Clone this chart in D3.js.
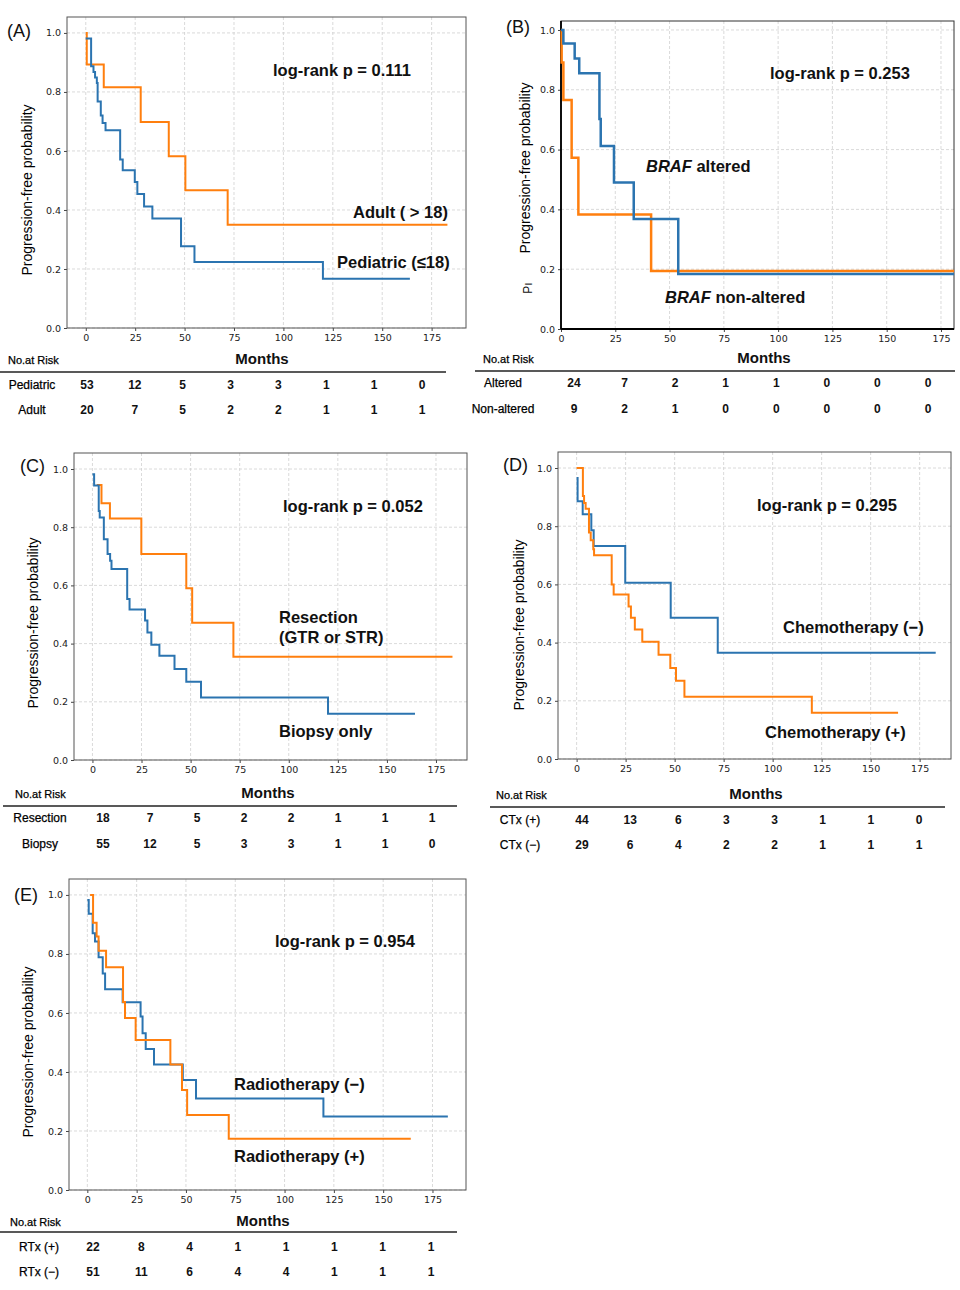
<!DOCTYPE html>
<html><head><meta charset="utf-8">
<script src="https://cdn.jsdelivr.net/npm/d3@7"></script>
<style>
body{margin:0;background:#fff;}
svg{display:block;}
</style></head>
<body>
<svg id="chart" width="960" height="1290"></svg>
<script>
// ---------------- DATA ----------------
const monthTicks = [0, 25, 50, 75, 100, 125, 150, 175];
const probTicks = [0, 0.2, 0.4, 0.6, 0.8, 1.0];

// Panel A: age
const A_pediatric = [[0,0.981],[2.7,0.887],[3.9,0.868],[4.7,0.849],[5.6,0.830],[6.0,0.768],[7.6,0.720],[8.5,0.695],[10,0.670],[17.4,0.571],[18.7,0.535],[24.8,0.495],[26.1,0.454],[29.5,0.412],[33.7,0.371],[48.2,0.277],[55,0.224],[120,0.167],[164,0.167]];
const A_adult = [[0,1.0],[0.5,0.893],[9.1,0.816],[27.8,0.698],[42,0.582],[50.4,0.467],[71.8,0.350],[183,0.350]];
const A_riskLabels = ["Pediatric", "Adult"];
const A_riskPediatric = [53, 12, 5, 3, 3, 1, 1, 0];
const A_riskAdult = [20, 7, 5, 2, 2, 1, 1, 1];

// Panel B: BRAF
const B_altered = [[0,1.0],[1.1,0.955],[6.3,0.905],[8.4,0.855],[17.7,0.702],[18.3,0.612],[24.4,0.490],[33.5,0.368],[54,0.184],[181,0.184]];
const B_nonAltered = [[0,1.0],[0.3,0.891],[1.1,0.766],[4.9,0.573],[8.0,0.383],[41.5,0.194],[181,0.194]];
const B_riskLabels = ["Altered", "Non-altered"];
const B_riskAltered = [24, 7, 2, 1, 1, 0, 0, 0];
const B_riskNonAltered = [9, 2, 1, 0, 0, 0, 0, 0];

// Panel C: surgery
const C_biopsy = [[0,0.982],[0.85,0.943],[3.2,0.856],[3.7,0.833],[5.8,0.759],[7.7,0.708],[9,0.685],[9.7,0.656],[17.7,0.553],[18.9,0.517],[26.8,0.479],[28,0.438],[30,0.396],[34.1,0.358],[41.8,0.313],[47.8,0.269],[55.3,0.215],[120,0.159],[164.3,0.159]];
const C_resection = [[2.2,0.945],[4.6,0.882],[8.9,0.830],[24.9,0.708],[47.8,0.590],[50.8,0.472],[71.8,0.355],[183.4,0.355]];
const C_riskLabels = ["Resection", "Biopsy"];
const C_riskResection = [18, 7, 5, 2, 2, 1, 1, 1];
const C_riskBiopsy = [55, 12, 5, 3, 3, 1, 1, 0];

// Panel D: chemotherapy
const D_chemoNeg = [[0,0.966],[0.5,0.886],[3.1,0.841],[7.5,0.786],[8.7,0.732],[24.8,0.606],[48,0.485],[72,0.365],[183.2,0.365]];
const D_chemoPos = [[0,1.0],[3.2,0.904],[3.8,0.880],[4.6,0.860],[6.3,0.778],[7.2,0.752],[8.5,0.721],[8.9,0.700],[17.9,0.600],[18.9,0.565],[26.5,0.524],[27.7,0.485],[29.7,0.445],[33.5,0.403],[41.8,0.358],[47.8,0.313],[50.7,0.269],[55,0.214],[120,0.159],[164,0.159]];
const D_riskLabels = ["CTx (+)", "CTx (\u2212)"];
const D_riskPos = [44, 13, 6, 3, 3, 1, 1, 0];
const D_riskNeg = [29, 6, 4, 2, 2, 1, 1, 1];

// Panel E: radiotherapy
const E_rtNeg = [[0,0.983],[0.7,0.936],[2.7,0.870],[3.9,0.842],[5.7,0.789],[7.8,0.734],[9,0.680],[17.9,0.636],[27,0.588],[28,0.531],[29.6,0.478],[33.8,0.425],[48.4,0.373],[55.1,0.310],[119.7,0.249],[182.8,0.249]];
const E_rtPos = [[1.4,1.0],[2.9,0.906],[4.7,0.859],[5.7,0.811],[9.5,0.755],[18.1,0.637],[19.1,0.583],[24.5,0.508],[42.1,0.425],[48,0.339],[50.6,0.254],[71.7,0.174],[164,0.174]];
const E_riskLabels = ["RTx (+)", "RTx (\u2212)"];
const E_riskPos = [22, 8, 4, 1, 1, 1, 1, 1];
const E_riskNeg = [51, 11, 6, 4, 4, 1, 1, 1];

// ---------------- DRAW ----------------
const BLUE = "#2b74b0", ORANGE = "#ff7f0e";
const svg = d3.select("#chart");
const SANS = "'Liberation Sans', Arial, sans-serif";
const NARROW = "'Liberation Sans Narrow', 'Liberation Sans', Arial, sans-serif";

function panel(cfg) {
  const x = d3.scaleLinear().domain(cfg.xd).range([cfg.l, cfg.r]);
  const y = d3.scaleLinear().domain(cfg.yd).range([cfg.b, cfg.t]);
  const g = svg.append("g");

  // grid
  g.append("g").selectAll("line").data(monthTicks).join("line")
    .attr("x1", d => x(d)).attr("x2", d => x(d)).attr("y1", cfg.t).attr("y2", cfg.b)
    .attr("stroke", "#d0d0d0").attr("stroke-width", 0.8).attr("stroke-dasharray", "3,2");
  g.append("g").selectAll("line").data(probTicks).join("line")
    .attr("x1", cfg.l).attr("x2", cfg.r).attr("y1", d => y(d)).attr("y2", d => y(d))
    .attr("stroke", "#d0d0d0").attr("stroke-width", 0.8).attr("stroke-dasharray", "3,2");

  // axes
  const xa = g.append("g").attr("transform", `translate(0,${cfg.b})`)
    .call(d3.axisBottom(x).tickValues(monthTicks).tickSize(3).tickSizeOuter(0).tickPadding(3));
  const ya = g.append("g").attr("transform", `translate(${cfg.l},0)`)
    .call(d3.axisLeft(y).tickValues(probTicks).tickFormat(d3.format(".1f")).tickSize(3).tickSizeOuter(0).tickPadding(3));
  [xa, ya].forEach(a => {
    a.select(".domain").remove();
    a.selectAll("line").attr("stroke", "#444");
    a.selectAll("text").attr("font-family", "'DejaVu Sans', sans-serif").attr("font-size", 9.5).attr("fill", "#222");
  });

  // frame
  g.append("rect").attr("x", cfg.l).attr("y", cfg.t).attr("width", cfg.r - cfg.l).attr("height", cfg.b - cfg.t)
    .attr("fill", "none").attr("stroke", cfg.frame || "#555").attr("stroke-width", 1);
  if (cfg.boldAxes) {
    g.append("line").attr("x1", cfg.l).attr("x2", cfg.l).attr("y1", cfg.t).attr("y2", cfg.b).attr("stroke", "#000").attr("stroke-width", 1.8);
    g.append("line").attr("x1", cfg.l).attr("x2", cfg.r).attr("y1", cfg.b).attr("y2", cfg.b).attr("stroke", "#000").attr("stroke-width", 1.8);
  }

  // curves
  const line = d3.line().x(d => x(d[0])).y(d => y(d[1])).curve(d3.curveStepAfter);
  cfg.curves.forEach(c => {
    g.append("path").datum(c.data).attr("d", line).attr("fill", "none")
      .attr("stroke", c.color).attr("stroke-width", cfg.lw || 2);
  });

  // y title
  g.append("text").attr("transform", `translate(${cfg.ytx},${cfg.yty}) rotate(-90)`)
    .attr("text-anchor", "middle").attr("dominant-baseline", "central")
    .attr("font-family", SANS).attr("font-size", 14).attr("fill", "#000")
    .text("Progression-free probability");

  // panel letter
  g.append("text").attr("x", cfg.letter[0]).attr("y", cfg.letter[1]).attr("dominant-baseline", "central")
    .attr("font-family", SANS).attr("font-size", 18).attr("fill", "#111").text(cfg.letter[2]);

  // annotations
  cfg.notes.forEach(n => {
    const t = g.append("text").attr("x", n[0]).attr("y", n[1]).attr("dominant-baseline", "central")
      .attr("font-family", SANS).attr("font-size", 16.5).attr("font-weight", "bold").attr("fill", "#111");
    if (n[3]) {
      t.append("tspan").attr("font-style", "italic").text(n[3]);
      t.append("tspan").text(n[2]);
    } else t.text(n[2]);
  });

  // risk table
  const rt = cfg.table;
  const cx = d3.scaleLinear().domain([0, 7]).range(rt.cols);
  g.append("text").attr("x", rt.nx).attr("y", rt.hy).attr("dominant-baseline", "central")
    .attr("font-family", NARROW).attr("font-size", 11).attr("fill", "#000")
    .attr("stroke", "#000").attr("stroke-width", 0.25).text("No.at Risk");
  g.append("text").attr("x", rt.mx).attr("y", rt.hy - 2).attr("text-anchor", "middle").attr("dominant-baseline", "central")
    .attr("font-family", NARROW).attr("font-size", 15).attr("font-weight", "bold").attr("fill", "#111").text("Months");
  g.append("line").attr("x1", rt.lx[0]).attr("x2", rt.lx[1]).attr("y1", rt.ly).attr("y2", rt.ly)
    .attr("stroke", "#222").attr("stroke-width", 1.5);
  rt.rows.forEach((row, i) => {
    g.append("text").attr("x", rt.labx).attr("y", rt.ry[i]).attr("text-anchor", "middle").attr("dominant-baseline", "central")
      .attr("font-family", NARROW).attr("font-size", 12).attr("fill", "#000")
      .attr("stroke", "#000").attr("stroke-width", 0.25).text(rt.labels[i]);
    g.append("g").selectAll("text").data(row).join("text")
      .attr("x", (d, j) => cx(j)).attr("y", rt.ry[i]).attr("text-anchor", "middle").attr("dominant-baseline", "central")
      .attr("font-family", NARROW).attr("font-size", 12).attr("font-weight", "bold").attr("fill", "#111").text(d => d);
  });
  return g;
}

panel({
  l: 67, r: 466, t: 17, b: 328, xd: [-9.5, 192.4], yd: [0, 1.054],
  curves: [{data: A_adult, color: ORANGE}, {data: A_pediatric, color: BLUE}],
  ytx: 27, yty: 190, letter: [7, 31, "(A)"],
  notes: [[273, 70, "log-rank p = 0.111"], [353, 212, "Adult ( > 18)"], [337, 262, "Pediatric (\u226418)"]],
  table: {nx: 8, hy: 360, mx: 262, lx: [0, 446], ly: 372, labx: 32, ry: [385, 410], cols: [87, 422],
          labels: A_riskLabels, rows: [A_riskPediatric, A_riskAdult]}
});

const gB = panel({
  l: 561, r: 954, t: 21, b: 329, xd: [0, 181], yd: [0, 1.03], lw: 2.5, boldAxes: true, frame: "#333",
  curves: [{data: B_nonAltered, color: ORANGE}, {data: B_altered, color: BLUE}],
  ytx: 525, yty: 168, letter: [506, 27, "(B)"],
  notes: [[770, 73, "log-rank p = 0.253"], [646, 166, " altered", "BRAF"], [665, 297, " non-altered", "BRAF"]],
  table: {nx: 483, hy: 359, mx: 764, lx: [475, 955], ly: 371, labx: 503, ry: [383, 409], cols: [574, 928],
          labels: B_riskLabels, rows: [B_riskAltered, B_riskNonAltered]}
});
gB.append("text").attr("transform", "translate(528,288) rotate(-90)").attr("text-anchor", "middle")
  .attr("dominant-baseline", "central").attr("font-family", SANS).attr("font-size", 12).attr("fill", "#111").text("P\u0131");

panel({
  l: 74, r: 467, t: 453, b: 760, xd: [-9.4, 190.8], yd: [0, 1.055],
  curves: [{data: C_resection, color: ORANGE}, {data: C_biopsy, color: BLUE}],
  ytx: 33, yty: 623, letter: [20, 466, "(C)"],
  notes: [[283, 506, "log-rank p = 0.052"], [279, 617, "Resection"], [279, 637, "(GTR or STR)"], [279, 731, "Biopsy only"]],
  table: {nx: 15, hy: 794, mx: 268, lx: [3, 457], ly: 806, labx: 40, ry: [818, 844], cols: [103, 432],
          labels: C_riskLabels, rows: [C_riskResection, C_riskBiopsy]}
});

panel({
  l: 558, r: 951, t: 452, b: 759, xd: [-9.5, 191], yd: [0, 1.055],
  curves: [{data: D_chemoNeg, color: BLUE}, {data: D_chemoPos, color: ORANGE}],
  ytx: 519, yty: 625, letter: [503, 465, "(D)"],
  notes: [[757, 505, "log-rank p = 0.295"], [783, 627, "Chemotherapy (\u2212)"], [765, 732, "Chemotherapy (+)"]],
  table: {nx: 496, hy: 795, mx: 756, lx: [490, 945], ly: 807, labx: 520, ry: [820, 845], cols: [582, 919],
          labels: D_riskLabels, rows: [D_riskPos, D_riskNeg]}
});

panel({
  l: 69, r: 466, t: 879, b: 1190, xd: [-9.3, 192], yd: [0, 1.054],
  curves: [{data: E_rtNeg, color: BLUE}, {data: E_rtPos, color: ORANGE}],
  ytx: 28, yty: 1052, letter: [14, 895, "(E)"],
  notes: [[275, 941, "log-rank p = 0.954"], [234, 1084, "Radiotherapy (\u2212)"], [234, 1156, "Radiotherapy (+)"]],
  table: {nx: 10, hy: 1222, mx: 263, lx: [0, 457], ly: 1232, labx: 39, ry: [1247, 1272], cols: [93, 431],
          labels: E_riskLabels, rows: [E_riskPos, E_riskNeg]}
});
</script>
</body></html>
